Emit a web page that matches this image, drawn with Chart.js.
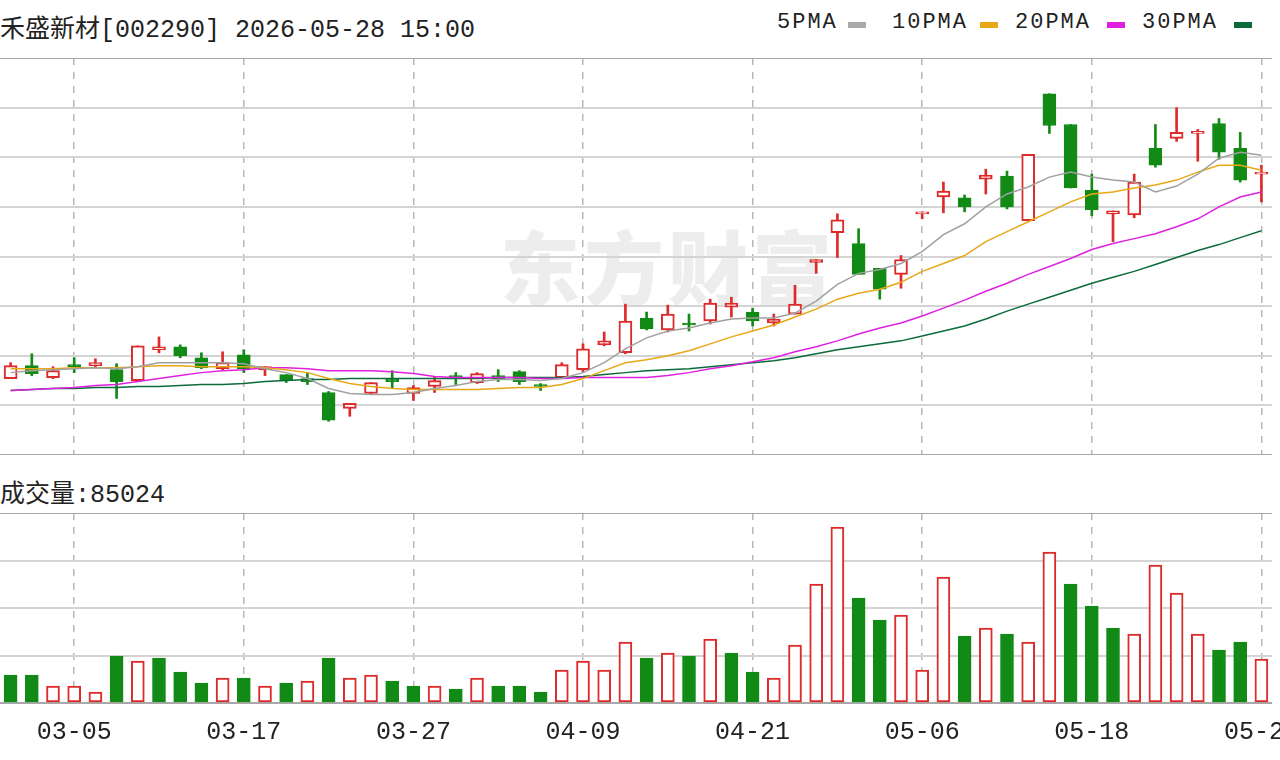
<!DOCTYPE html>
<html>
<head>
<meta charset="utf-8">
<script src="https://cdn.jsdelivr.net/npm/chart.js@4/dist/chart.umd.min.js"></script>
<style>
  body { margin: 0; background: #fff; width: 1280px; height: 760px; overflow: hidden; position: relative; }
  .txt { position: absolute; font-family: "Liberation Mono", "Noto Sans CJK SC", monospace; color: #222; white-space: nowrap; }
  .sw { position: absolute; width: 18px; height: 6px; }
  .wm { position: absolute; left: 500px; top: 205px; font-family: "Noto Sans CJK SC"; font-weight: 900; font-size: 80px; color: rgba(0,0,0,0.07); letter-spacing: 4px; }
  #pbox { position: absolute; left: 0; top: 58px; width: 1272px; height: 397px; }
  #vbox { position: absolute; left: 0; top: 513px; width: 1280px; height: 247px; }
</style>
</head>
<body>
<div class="wm">东方财富</div>
<div class="txt" style="left:0;top:8px;font-size:25px">禾盛新材[002290] 2026-05-28 15:00</div>
<div class="txt" style="left:777px;top:10px;font-size:22px;letter-spacing:2px">5PMA</div>
<div class="sw" style="left:848px;top:22px;background:#aaa"></div>
<div class="txt" style="left:892px;top:10px;font-size:22px;letter-spacing:2px">10PMA</div>
<div class="sw" style="left:980px;top:22px;background:#e6a817"></div>
<div class="txt" style="left:1015px;top:10px;font-size:22px;letter-spacing:2px">20PMA</div>
<div class="sw" style="left:1107px;top:22px;background:#e020e0"></div>
<div class="txt" style="left:1142px;top:10px;font-size:22px;letter-spacing:2px">30PMA</div>
<div class="sw" style="left:1234px;top:22px;background:#0b6b3a"></div>
<div class="txt" style="left:0;top:473px;font-size:25px">成交量:85024</div>
<div id="pbox"><canvas id="price"></canvas></div>
<div id="vbox"><canvas id="vol"></canvas></div>
<script>
const dates = ['03-02','03-03','03-04','03-05','03-06','03-09','03-10','03-11','03-12','03-13',
  '03-16','03-17','03-18','03-19','03-20','03-23','03-24','03-25','03-26','03-27',
  '03-30','03-31','04-01','04-02','04-03','04-07','04-08','04-09','04-10','04-13',
  '04-14','04-15','04-16','04-17','04-20','04-21','04-22','04-23','04-24','04-27',
  '04-28','04-29','04-30','05-06','05-07','05-08','05-11','05-12','05-13','05-14',
  '05-15','05-18','05-19','05-20','05-21','05-22','05-25','05-26','05-27','05-28'];
const shownDates = ['03-05','03-17','03-27','04-09','04-21','05-06','05-18','05-28'];

const open  = [6.10,6.75,6.15,6.80,6.75,6.55,6.00,7.55,7.70,7.15, 6.60,7.30,6.55,6.30,6.10,5.40,4.60,5.35,6.10,5.35,
               5.70,6.25,5.90,6.25,6.45,5.75,6.15,6.55,7.80,7.40, 9.15,8.55,8.90,9.00,9.70,9.45,8.90,9.35,11.95,13.45,
               12.90,11.65,11.35,14.40,15.25,15.20,16.15,16.30,14.05,20.45, 18.90,15.60,14.40,14.35,17.70,18.20,18.45,18.95,17.70,16.40];
const high  = [6.90,7.35,6.70,7.15,7.10,6.85,7.75,8.20,7.80,7.40, 7.45,7.55,6.70,6.30,6.40,5.45,4.85,5.90,6.50,5.75,
               6.20,6.40,6.40,6.55,6.50,5.85,6.90,7.85,8.45,9.85, 9.45,9.80,9.35,10.10,10.20,9.65,9.35,10.80,12.10,14.40,
               13.65,11.65,12.30,14.50,16.00,15.35,16.65,16.55,17.40,20.45, 18.90,16.40,14.55,16.40,18.90,19.75,18.65,19.20,18.50,16.85];
const low   = [6.10,6.25,6.10,6.40,6.70,5.10,6.00,7.40,7.15,6.60, 6.55,6.40,6.25,5.90,5.80,3.95,4.20,5.30,5.60,5.00,
               5.40,5.80,5.85,5.95,5.80,5.50,6.10,6.45,7.75,7.35, 8.55,8.45,8.50,8.85,9.20,8.75,8.75,9.35,11.40,12.20,
               11.35,10.10,10.65,14.15,14.45,14.50,15.40,14.65,14.05,18.45, 15.70,14.30,13.00,14.20,16.75,18.05,17.05,17.15,16.00,15.00];
const close = [6.75,6.35,6.50,6.70,6.90,5.95,7.75,7.70,7.25,6.65, 6.90,6.60,6.70,6.00,5.95,4.00,4.85,5.90,5.95,5.65,
               6.00,6.15,6.35,6.10,5.95,5.70,6.80,7.60,8.00,9.00, 8.60,9.35,8.80,9.90,9.90,9.00,9.10,9.85,12.10,14.10,
               11.35,10.60,12.10,14.50,15.55,14.75,16.35,14.75,17.40,18.85, 15.70,14.60,14.55,16.00,16.85,18.50,18.55,17.50,16.10,16.50];

const ma5  = [6.40,6.50,6.55,6.60,6.65,6.60,6.70,6.90,6.90,6.90, 6.90,6.85,6.60,6.40,6.10,5.60,5.35,5.30,5.30,5.40,
              5.60,5.75,5.95,6.05,6.05,6.00,6.10,6.40,6.90,7.60, 8.15,8.50,8.65,8.90,9.10,9.15,9.15,9.40,10.00,10.85,
              11.40,11.60,11.90,12.50,13.35,13.90,14.75,15.40,15.75,16.25, 16.50,16.25,16.10,16.00,15.50,15.80,16.40,17.20,17.50,17.35];
const ma10 = [6.60,6.60,6.60,6.65,6.65,6.65,6.70,6.75,6.75,6.70, 6.70,6.70,6.65,6.55,6.40,6.10,5.85,5.70,5.60,5.55,
              5.55,5.55,5.55,5.60,5.65,5.65,5.80,6.10,6.50,6.90, 7.05,7.25,7.50,7.85,8.20,8.50,8.80,9.20,9.60,10.10,
              10.40,10.60,10.95,11.50,11.90,12.30,13.00,13.50,14.00,14.50, 15.00,15.40,15.50,15.70,15.85,16.10,16.50,16.85,16.85,16.60];
const ma20 = [5.50,5.55,5.60,5.65,5.75,5.80,5.95,6.10,6.25,6.40, 6.50,6.55,6.65,6.65,6.60,6.50,6.50,6.50,6.45,6.35,
              6.20,6.15,6.15,6.15,6.15,6.10,6.10,6.15,6.15,6.15, 6.15,6.25,6.40,6.60,6.75,6.95,7.15,7.45,7.70,8.00,
              8.35,8.65,8.90,9.25,9.65,10.05,10.50,10.90,11.35,11.75, 12.15,12.60,12.90,13.15,13.40,13.75,14.15,14.75,15.25,15.50];
const ma30 = [5.50,5.55,5.60,5.60,5.65,5.65,5.70,5.70,5.75,5.80, 5.80,5.85,5.95,6.00,6.05,6.05,6.10,6.10,6.10,6.10,
              6.10,6.10,6.10,6.15,6.15,6.15,6.15,6.20,6.30,6.40, 6.50,6.55,6.60,6.70,6.80,6.90,7.00,7.15,7.35,7.55,
              7.70,7.85,8.00,8.25,8.50,8.75,9.10,9.50,9.85,10.20, 10.55,10.90,11.20,11.50,11.85,12.20,12.55,12.85,13.20,13.55];

const volume = [54096,54096,32844,32844,21252,90804,81144,86940,59892,38640,
                48300,48300,32844,38640,42504,86940,48300,54096,42504,32844,
                32844,27048,48300,32844,32844,21252,63756,81144,63756,117852,
                86940,96600,90804,123648,96600,59892,48300,112056,229908,340032,
                202860,160356,170016,63756,243432,129444,144900,133308,117852,291732,
                229908,187404,144900,133308,266616,212520,133308,102396,117852,85024];
const volUp = [0,0,1,1,1,0,1,0,0,0, 1,0,1,0,1,0,1,1,0,0, 1,0,1,0,0,0,1,1,1,1,
               0,1,0,1,0,0,1,1,1,1, 0,0,1,1,1,0,1,0,1,1, 0,0,0,1,1,1,1,0,0,1];

const RED = '#dd2a2a', GREEN = '#128a16';
const up = close.map((c, i) => c >= open[i]);
const bodies = open.map((o, i) => [o, close[i]]);
const wicks = low.map((l, i) => [l, high[i]]);

const xGrid = {
  offset: false,
  lineWidth: 1.5,
  color: c => shownDates.includes(dates[c.index]) ? '#b8b8b8' : 'transparent'
};
const hGrid = (n) => ({
  lineWidth: 2,
  color: c => (c.index === 0 || c.index === n) ? '#a8a8a8' : '#d4d4d4'
});
const fitX = h => s => { s.height = h; s.paddingLeft = 0; s.paddingRight = 0; };

new Chart(document.getElementById('price'), {
  type: 'bar',
  data: {
    labels: dates,
    datasets: [
      { data: wicks, backgroundColor: up.map(u => u ? RED : GREEN), barThickness: 2, grouped: false, order: 4 },
      { data: bodies, backgroundColor: up.map(u => u ? '#fff' : GREEN), borderColor: up.map(u => u ? RED : GREEN),
        borderWidth: 2, borderSkipped: false, barThickness: 13, minBarLength: 2, grouped: false, order: 3 },
      { type: 'line', data: ma5, borderColor: '#a0a0a0', borderWidth: 1.5, pointRadius: 0, order: 1 },
      { type: 'line', data: ma10, borderColor: '#e6a817', borderWidth: 1.5, pointRadius: 0, order: 1 },
      { type: 'line', data: ma20, borderColor: '#e020e0', borderWidth: 1.5, pointRadius: 0, order: 1 },
      { type: 'line', data: ma30, borderColor: '#0b6b3a', borderWidth: 1.5, pointRadius: 0, order: 1 }
    ]
  },
  options: {
    responsive: true, maintainAspectRatio: false, animation: false,
    layout: { padding: 0 },
    plugins: { legend: { display: false }, tooltip: { enabled: false } },
    scales: {
      x: { ticks: { display: false, autoSkip: false }, grid: { ...xGrid, drawTicks: false },
           border: { display: false, dash: [7, 7] }, afterFit: fitX(0) },
      y: { min: 2.25, max: 22.25, ticks: { display: false, stepSize: 2.5 }, grid: { ...hGrid(8), drawTicks: false },
           border: { display: false }, afterFit: s => { s.width = 0; } }
    }
  }
});

new Chart(document.getElementById('vol'), {
  type: 'bar',
  data: {
    labels: dates,
    datasets: [
      { data: volume, backgroundColor: volUp.map(u => u ? '#fff' : GREEN), borderColor: volUp.map(u => u ? RED : GREEN),
        borderWidth: 2, borderSkipped: false, barThickness: 13 }
    ]
  },
  options: {
    responsive: true, maintainAspectRatio: false, animation: false,
    layout: { padding: { left: 0, right: 8, top: 0, bottom: 0 } },
    plugins: { legend: { display: false }, tooltip: { enabled: false } },
    scales: {
      x: {
        ticks: {
          autoSkip: false, maxRotation: 0, padding: 14, color: '#222',
          font: { family: 'Liberation Mono', size: 25 },
          callback: function (v, i) { return shownDates.includes(dates[i]) ? dates[i] : ''; }
        },
        grid: { ...xGrid, drawTicks: false },
        border: { display: false, dash: [7, 7] },
        afterFit: fitX(57)
      },
      y: { min: 0, max: 367080, ticks: { display: false, stepSize: 91770 }, grid: { ...hGrid(4), drawTicks: false },
           border: { display: false }, afterFit: s => { s.width = 0; } }
    }
  }
});
</script>
</body>
</html>
